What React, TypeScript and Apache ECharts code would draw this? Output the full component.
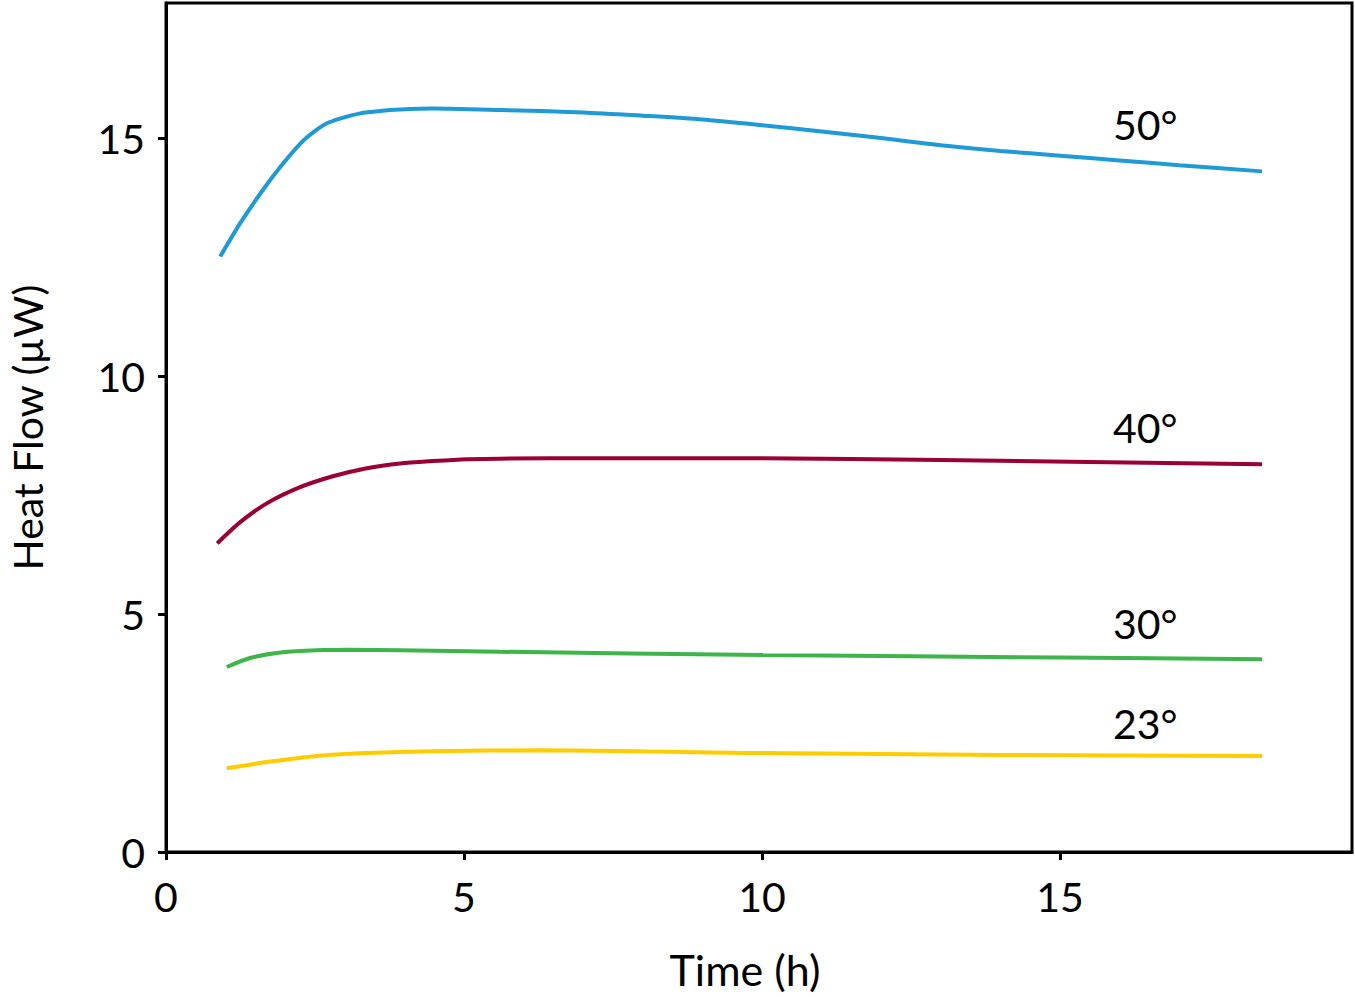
import React, { useEffect, useRef } from "react";
import * as echarts from "echarts";

const xTicks = [0, 5, 10, 15];
const yTicks = [0, 5, 10, 15];

const s50: [number, number][] = [
  [0.91, 12.52], [1.24, 13.21], [1.58, 13.84], [1.91, 14.39], [2.25, 14.89], [2.47, 15.13],
  [2.7, 15.32], [2.92, 15.42], [3.26, 15.53], [3.59, 15.58], [3.93, 15.61], [4.48, 15.63],
  [5.6, 15.6], [7, 15.55], [8, 15.48], [9, 15.4], [10, 15.28],
  [11, 15.15], [12, 15.01], [13, 14.86], [14, 14.74], [15, 14.64], [16, 14.54],
  [17, 14.44], [18.39, 14.31],
];
const s40: [number, number][] = [
  [0.86, 6.49], [1.24, 6.93], [1.69, 7.33], [2.25, 7.67], [2.8, 7.9], [3.37, 8.07],
  [3.93, 8.17], [4.48, 8.22], [5.05, 8.26], [5.6, 8.27], [7.3, 8.28], [10, 8.28],
  [13, 8.24], [18.39, 8.15],
];
const s30: [number, number][] = [
  [1.02, 3.89], [1.41, 4.08], [1.96, 4.2], [2.53, 4.24], [3.09, 4.25], [3.93, 4.24],
  [5.6, 4.21], [10, 4.14], [15, 4.09], [18.39, 4.05],
];
const s23: [number, number][] = [
  [1.02, 1.76], [1.69, 1.89], [2.53, 2.02], [3.37, 2.08], [4.48, 2.12], [6.3, 2.14],
  [10, 2.08], [14, 2.04], [18.39, 2.02],
];

const seriesNames = ["50°", "40°", "30°", "23°"];
const seriesColors = ["#1E9AD6", "#9B0033", "#3DB54A", "#FFCC00"];
const seriesData = [s50, s40, s30, s23];
const labelPos: [number, number][] = [[16.43, 15.29], [16.43, 8.93], [16.43, 4.81], [16.43, 2.71]];

const FONT = "Lato";

export default function App() {
  const ref = useRef<HTMLDivElement>(null);
  useEffect(() => {
    if (!ref.current) return;
    const chart = echarts.init(ref.current, null, { renderer: "svg" });
    const lines = seriesData.map((d, i) => ({
      type: "line",
      name: seriesNames[i],
      data: d,
      smooth: 0.25,
      showSymbol: false,
      symbol: "none",
      lineStyle: { color: seriesColors[i], width: 4 },
      z: 2,
    }));
    const labels = {
      type: "scatter",
      symbolSize: 0,
      itemStyle: { opacity: 1 },
      data: labelPos.map((p, i) => ({ value: p, name: seriesNames[i] })),
      label: {
        show: true,
        position: "inside",
        formatter: (p: any) => p.name,
        color: "#000000",
        opacity: 1,
        fontFamily: FONT,
        fontSize: 41,
      },
      emphasis: { disabled: true },
      silent: true,
      z: 3,
    };
    chart.setOption({
      animation: false,
      backgroundColor: "#fff",
      grid: {
        left: 166,
        right: 3,
        top: 3,
        bottom: 145,
        show: true,
        borderColor: "#000",
        borderWidth: 3,
        containLabel: false,
        outerBoundsMode: "none",
      },
      xAxis: {
        type: "value",
        min: 0,
        max: 19.9,
        interval: 5,
        name: "Time (h)",
        nameLocation: "middle",
        nameGap: 96,
        nameTextStyle: { fontFamily: FONT, fontSize: 43, color: "#000", padding: [0, 28, 0, 0] },
        axisLine: { lineStyle: { color: "#000", width: 3 } },
        axisTick: { show: true, length: 8, lineStyle: { width: 3, color: "#000" }, customValues: xTicks },
        axisLabel: { fontFamily: FONT, fontSize: 41, color: "#000", margin: 24, customValues: xTicks },
        splitLine: { show: false },
      },
      yAxis: {
        type: "value",
        min: 0,
        max: 17.85,
        interval: 5,
        name: "Heat Flow (µW)",
        nameLocation: "middle",
        nameGap: 118,
        nameTextStyle: { fontFamily: FONT, fontSize: 41, lineHeight: 41, color: "#000" },
        axisLine: { show: true, lineStyle: { color: "#000", width: 3 } },
        axisTick: { show: true, length: 8, lineStyle: { width: 3, color: "#000" }, customValues: yTicks },
        axisLabel: { fontFamily: FONT, fontSize: 41, color: "#000", margin: 21, customValues: yTicks },
        splitLine: { show: false },
      },
      series: [...lines, labels],
    });
    return () => chart.dispose();
  }, []);
  return (
    <div
      ref={ref}
      style={{ position: "absolute", left: 0, top: 0, width: 1355, height: 997 }}
    />
  );
}
